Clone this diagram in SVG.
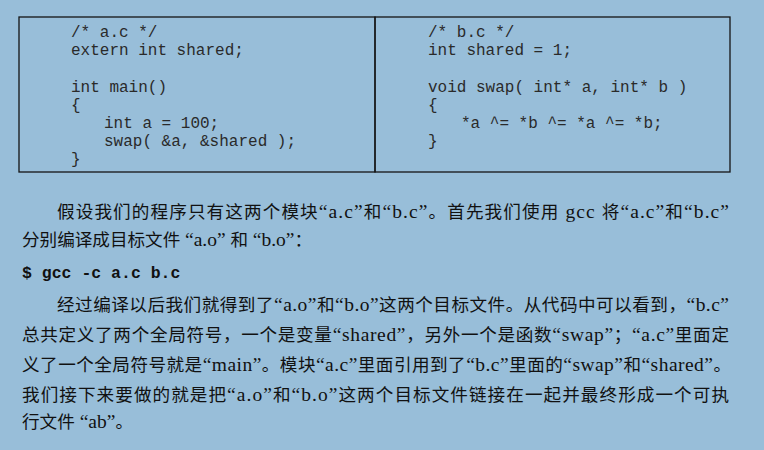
<svg xmlns="http://www.w3.org/2000/svg" width="764" height="450" viewBox="0 0 764 450">
  <style>
    .box { fill: none; stroke: #151515; stroke-width: 1.3; }
    .code { font-family: "Liberation Mono", "DejaVu Sans Mono", monospace; font-size: 16px; fill: #2a2a2a; white-space: pre; }
    .cmd { font-family: "Liberation Mono", "DejaVu Sans Mono", monospace; font-size: 16.5px; font-weight: bold; fill: #111; white-space: pre; }
    .txt { font-family: "Liberation Serif", "Noto Sans CJK SC", serif; font-size: 17.6px; fill: #111; white-space: pre; }
    .l { font-family: "Liberation Serif", serif; font-size: 19.5px; }
  </style>
  <rect x="0" y="0" width="764" height="450" fill="#98bed9"/>
  <g id="node-ac">
    <rect class="box" x="19" y="17" width="356" height="155"/>
    <text class="code" x="71" y="37">/* a.c */</text>
    <text class="code" x="71" y="55">extern int shared;</text>
    <text class="code" x="71" y="92">int main()</text>
    <text class="code" x="71" y="110">{</text>
    <text class="code" x="104" y="127.5">int a = 100;</text>
    <text class="code" x="104" y="146">swap( &amp;a, &amp;shared );</text>
    <text class="code" x="71" y="164">}</text>
  </g>
  <g id="node-bc">
    <rect class="box" x="375" y="17" width="355" height="155"/>
    <text class="code" x="428" y="37">/* b.c */</text>
    <text class="code" x="428" y="55">int shared = 1;</text>
    <text class="code" x="428" y="92">void swap( int* a, int* b )</text>
    <text class="code" x="428" y="110">{</text>
    <text class="code" x="461" y="128">*a ^= *b ^= *a ^= *b;</text>
    <text class="code" x="428" y="146">}</text>
  </g>
  <g id="para1">
    <text class="txt" x="57" y="218" textLength="672" lengthAdjust="spacing">假设我们的程序只有这两个模块<tspan class="l">“a.c”</tspan>和<tspan class="l">“b.c”</tspan>。首先我们使用<tspan class="l"> gcc </tspan>将<tspan class="l">“a.c”</tspan>和<tspan class="l">“b.c”</tspan></text>
    <text class="txt" x="22" y="246" textLength="290" lengthAdjust="spacing">分别编译成目标文件<tspan class="l"> “a.o” </tspan>和<tspan class="l"> “b.o”</tspan>：</text>
  </g>
  <g id="command">
    <text class="cmd" x="22" y="278">$ gcc -c a.c b.c</text>
  </g>
  <g id="para2">
    <text class="txt" x="57" y="311" textLength="672" lengthAdjust="spacing">经过编译以后我们就得到了<tspan class="l">“a.o”</tspan>和<tspan class="l">“b.o”</tspan>这两个目标文件。从代码中可以看到，<tspan class="l">“b.c”</tspan></text>
    <text class="txt" x="22" y="341" textLength="707" lengthAdjust="spacing">总共定义了两个全局符号，一个是变量<tspan class="l">“shared”</tspan>，另外一个是函数<tspan class="l">“swap”</tspan>；<tspan class="l">“a.c”</tspan>里面定</text>
    <text class="txt" x="22" y="371" textLength="709" lengthAdjust="spacing">义了一个全局符号就是<tspan class="l">“main”</tspan>。模块<tspan class="l">“a.c”</tspan>里面引用到了<tspan class="l">“b.c”</tspan>里面的<tspan class="l">“swap”</tspan>和<tspan class="l">“shared”</tspan>。</text>
    <text class="txt" x="22" y="401" textLength="707" lengthAdjust="spacing">我们接下来要做的就是把<tspan class="l">“a.o”</tspan>和<tspan class="l">“b.o”</tspan>这两个目标文件链接在一起并最终形成一个可执</text>
    <text class="txt" x="22" y="428">行文件<tspan class="l"> “ab”</tspan>。</text>
  </g>
</svg>
